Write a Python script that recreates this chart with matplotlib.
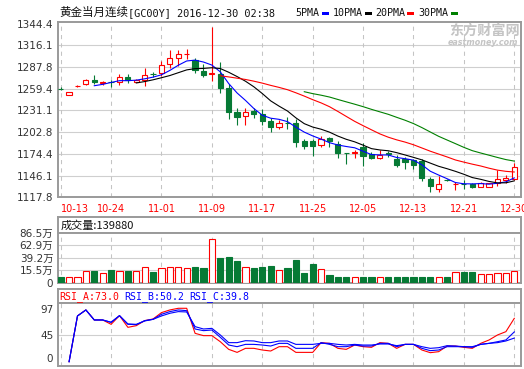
import matplotlib
matplotlib.use('Agg')
import matplotlib.pyplot as plt
from matplotlib.patches import Rectangle
from matplotlib.transforms import ScaledTranslation
import numpy as np
import pandas as pd

# ---------------- data ----------------
opens = [1259.6, 1251.5, 1262.4, 1265.4, 1271.0, 1266.6, 1268.4, 1268.0, 1274.9, 1268.5,
         1271.4, 1279.0, 1280.1, 1291.0, 1299.6, 1304.5, 1296.8, 1283.1, 1279.0, 1279.2,
         1259.7, 1228.5, 1224.2, 1229.8, 1225.9, 1216.8, 1209.4, 1215.2, 1215.1, 1191.2,
         1191.2, 1186.0, 1194.6, 1187.7, 1175.4, 1175.6, 1183.4, 1173.8, 1168.6, 1175.0,
         1167.3, 1168.2, 1166.0, 1165.2, 1141.3, 1129.2, 1140.8, 1134.6, 1135.5, 1134.8,
         1131.8, 1131.8, 1136.1, 1140.0, 1142.2]
highs = [1261.0, 1255.6, 1263.6, 1272.3, 1277.9, 1270.1, 1271.4, 1279.2, 1278.4, 1272.5,
         1286.6, 1281.4, 1295.3, 1310.5, 1310.5, 1310.9, 1299.6, 1292.2, 1340.5, 1294.0,
         1264.9, 1234.6, 1234.6, 1234.6, 1232.4, 1221.6, 1218.1, 1222.9, 1220.3, 1194.2,
         1194.2, 1197.7, 1196.4, 1191.2, 1176.0, 1179.0, 1189.0, 1176.8, 1179.0, 1178.1,
         1172.5, 1170.8, 1168.2, 1168.2, 1144.8, 1145.6, 1141.3, 1137.8, 1140.0, 1137.0,
         1137.8, 1137.0, 1153.5, 1146.5, 1163.0]
lows = [1257.5, 1251.3, 1262.0, 1264.1, 1264.9, 1263.6, 1261.5, 1264.1, 1266.2, 1267.5,
        1262.8, 1274.9, 1276.6, 1286.6, 1288.8, 1297.5, 1280.1, 1274.5, 1269.3, 1253.6,
        1220.3, 1211.6, 1211.6, 1221.6, 1211.6, 1202.9, 1207.2, 1207.2, 1183.0, 1180.3,
        1171.6, 1183.4, 1183.4, 1168.6, 1160.8, 1168.6, 1158.6, 1167.3, 1167.3, 1170.8,
        1157.8, 1155.2, 1154.3, 1139.1, 1125.3, 1124.8, 1139.5, 1127.4, 1128.3, 1130.5,
        1131.0, 1131.0, 1132.6, 1137.0, 1140.4]
closes = [1259.3, 1255.4, 1263.2, 1270.6, 1268.0, 1268.2, 1267.8, 1274.9, 1270.6, 1271.2,
          1277.1, 1278.6, 1290.3, 1299.2, 1304.8, 1305.0, 1284.0, 1277.9, 1279.4, 1260.6,
          1228.9, 1222.4, 1229.4, 1226.3, 1217.2, 1209.4, 1215.0, 1214.6, 1190.3, 1184.7,
          1184.7, 1194.2, 1191.2, 1175.1, 1175.0, 1176.4, 1171.6, 1169.5, 1172.9, 1174.5,
          1159.9, 1163.9, 1160.0, 1142.6, 1132.6, 1134.8, 1140.2, 1135.0, 1134.6, 1131.8,
          1137.0, 1136.1, 1141.3, 1143.5, 1157.8]
# volume in 万 (10k contracts)
volume = [2.6, 2.6, 2.6, 13.6, 14.2, 10.4, 16.1, 14.2, 14.2, 13.6,
          21.1, 12.9, 19.2, 21.1, 21.1, 19.2, 21.7, 19.8, 73.7, 38.6,
          40.5, 33.0, 21.1, 19.8, 21.7, 23.6, 15.4, 19.8, 34.9, 10.4,
          27.3, 17.3, 6.7, 2.6, 2.6, 2.6, 2.6, 2.6, 2.6, 2.6,
          2.6, 2.6, 2.6, 2.6, 2.6, 2.6, 2.6, 12.9, 12.9, 12.3,
          8.6, 8.6, 9.8, 9.8, 14.0]
nan = np.nan
rsi_a = [nan, 0, 77.1, 87.2, 70.3, 70.3, 63.0, 77.6, 57.9, 60.7, 69.2, 72.0, 82.7, 87.2, 90.0,
         90.0, 47.8, 43.9, 43.9, 33.7, 20.8, 15.7, 22.5, 22.5, 19.7, 18.0, 25.3, 25.3, 15.7,
         15.7, 15.7, 32.1, 30.9, 22.5, 20.8, 28.1, 25.3, 24.2, 32.1, 30.9, 22.5, 29.2, 29.2,
         19.7, 15.2, 16.9, 26.4, 26.4, 24.2, 22.5, 30.9, 36.6, 45.0, 50.6, 73.0]
rsi_b = [nan, 0, 77.1, 87.2, 70.3, 70.3, 66.4, 77.6, 63.0, 62.4, 69.2, 71.4, 79.9, 84.4, 87.2,
         86.0, 55.1, 52.3, 53.4, 41.1, 28.1, 25.3, 29.2, 29.2, 28.1, 26.4, 30.9, 30.9, 22.5,
         22.5, 22.5, 32.1, 29.2, 25.3, 25.3, 28.1, 26.4, 26.4, 30.9, 30.9, 25.3, 29.2, 29.2,
         22.5, 18.6, 19.7, 25.3, 25.3, 25.3, 24.2, 29.2, 30.9, 33.7, 36.6, 50.2]
rsi_c = [nan, 0, 77.1, 87.2, 70.3, 70.3, 66.4, 77.6, 63.6, 63.0, 68.6, 71.4, 77.1, 81.6, 84.4,
         83.8, 59.1, 55.1, 56.2, 45.0, 32.1, 32.1, 35.4, 34.9, 32.1, 32.1, 34.9, 34.9, 29.2,
         29.2, 29.2, 30.9, 30.9, 29.2, 28.1, 29.2, 28.1, 28.1, 29.8, 29.8, 27.0, 29.2, 29.2,
         25.3, 22.5, 23.6, 27.0, 26.4, 25.3, 25.3, 29.2, 30.9, 32.1, 34.9, 39.8]
date_labels = ['10-13', '10-24', '11-01', '11-09', '11-17', '11-25', '12-05', '12-13', '12-21', '12-30']
date_idx = [0, 6, 12, 18, 24, 30, 36, 42, 48, 54]
price_ticks = [1117.8, 1146.1, 1174.4, 1202.8, 1231.1, 1259.4, 1287.8, 1316.1, 1344.4]
vol_ticks = [15.5, 39.2, 62.9, 86.5]
vol_bottom = -8.15
rsi_ticks = [0, 45, 97]
ma_periods = [5, 10, 20, 30]
ma_names = ['5PMA', '10PMA', '20PMA', '30PMA']
last_volume = '139880'
rsi_last = ['73.0', '50.2', '39.8']

# ---------------- style ----------------
RED = '#FF0000'
GREEN = '#067A35'
BLUE = '#0000FF'
BORDER = '#9A9A9A'
GRID = '#CFCFCF'
ma_colors = [BLUE, '#000000', RED, '#008000']
CJK = ['Noto Sans CJK SC', 'DejaVu Sans']
LAT = ['DejaVu Sans', 'Noto Sans CJK SC']
MONO = ['DejaVu Sans Mono', 'Noto Sans CJK SC']

W, H = 524, 369
fig = plt.figure(figsize=(W / 100, H / 100), dpi=100)
fig.patch.set_facecolor('white')


def axes_px(x0, y0, x1, y1):
    return fig.add_axes([x0 / W, 1 - y1 / H, (x1 - x0) / W, (y1 - y0) / H])


L, R = 57.5, 521
ax = axes_px(L, 22.3, R, 197.3)
vh = axes_px(L, 217, R, 232.5)
av = axes_px(L, 232.5, R, 283)
rh = axes_px(L, 289.3, R, 303.3)
ar = axes_px(L, 303.3, R, 365.7)

o = np.array(opens); c = np.array(closes)
hi = np.array(highs); lo = np.array(lows)
x = np.arange(len(c))
up = c >= o
cols = np.where(up, RED, GREEN)
XLIM = (-0.38, 54.8)

for a in (ax, vh, av, rh, ar):
    a.set_xlim(*XLIM)
    for s in a.spines.values():
        s.set_color(BORDER)
        s.set_linewidth(1.4)
    a.tick_params(length=0)
    a.set_facecolor('white')
for a in (vh, rh):
    a.set_xticks([]); a.set_yticks([])

# ---- main price panel ----
ax.set_ylim(1117.8, 1346.0)
for t in price_ticks[1:-1]:
    ax.axhline(t, color=GRID, lw=0.8, zorder=0)
for a in (ax, av, ar):
    for xi in date_idx:
        a.axvline(xi, color='#C4C4C4', lw=0.75, ls=(0, (4, 4)), zorder=0)

ax.vlines(x, lo, hi, colors=cols, lw=0.8, zorder=2)
body_lo = np.minimum(o, c)
body_h = np.maximum(np.abs(c - o), 0.35)
ax.bar(x, body_h, bottom=body_lo, width=0.62,
       facecolor=np.where(up, 'white', GREEN), edgecolor=cols, linewidth=0.8, zorder=3)

cs = pd.Series(c)
for n, col in zip(ma_periods, ma_colors):
    ax.plot(x, cs.rolling(n).mean(), color=col, lw=0.8, zorder=4)

ax.set_yticks(price_ticks)
ax.set_yticklabels([f'{t:.1f}' for t in price_ticks], fontsize=7.5, color='#333333')
ax.tick_params(axis='y', pad=3)
ax.set_xticks(date_idx)
ax.set_xticklabels(date_labels, fontsize=7, color=RED)
ax.tick_params(axis='x', pad=5)
ax.get_xticklabels()[0].set_ha('left')

# ---- volume panel ----
vol = np.array(volume)
av.set_ylim(vol_bottom, vol_ticks[-1])
for t in vol_ticks[:-1]:
    av.axhline(t, color=GRID, lw=0.8, zorder=0)
av.bar(x, vol - vol_bottom, bottom=vol_bottom, width=0.72,
       facecolor=np.where(up, 'white', GREEN), edgecolor=cols, linewidth=0.8, zorder=3)
av.set_yticks([vol_bottom] + vol_ticks)
av.set_yticklabels(['0'] + [f'{t:.1f}万' for t in vol_ticks], fontsize=7.5,
                   color='#333333', family=LAT)
av.tick_params(axis='y', pad=3)
av.set_xticks([])
vh.text(0.006, 0.45, '成交量:' + last_volume, transform=vh.transAxes, ha='left',
        va='center', fontsize=8, family=CJK, color='#111111')

# ---- RSI panel ----
ar.set_ylim(-6.75, 98.4)
ar.axhline(45, color=GRID, lw=0.8, zorder=0)
ar.plot(x, rsi_a, color=RED, lw=0.8, zorder=3)
ar.plot(x, rsi_c, color=BLUE, lw=0.8, zorder=4)
ar.plot(x, rsi_b, color=BLUE, lw=0.8, zorder=4)
ar.set_yticks(rsi_ticks)
ar.set_yticklabels([str(t) for t in rsi_ticks], fontsize=7.5, color='#333333')
ar.tick_params(axis='y', pad=3)
ar.set_xticks([])
for lab, dy in zip(ar.get_yticklabels(), [4, 0, -5]):
    lab.set_transform(lab.get_transform() + ScaledTranslation(0, dy / 100, fig.dpi_scale_trans))

rsi_txt = [('RSI_A:' + rsi_last[0], RED), ('RSI_B:' + rsi_last[1], BLUE), ('RSI_C:' + rsi_last[2], BLUE)]
px = 59
for s, col in rsi_txt:
    fig.text(px / W, 1 - 296.5 / H, s, ha='left', va='center', fontsize=7.1,
             family=MONO, color=col)
    px += (len(s) + 1) * 5.94

# ---- title & legend ----
fig.text(59 / W, 1 - 12.7 / H, '黄金当月连续', ha='left', va='center', fontsize=8.3,
         family=CJK, color='#111111')
fig.text(128.5 / W, 1 - 12.7 / H, '[GC00Y] 2016-12-30 02:38', ha='left', va='center',
         fontsize=7.4, family=MONO, color='#111111')
lx = [295, 333, 375, 418]
mx = [322, 365, 407, 451]
for name, col, tx, rx in zip(ma_names, ma_colors, lx, mx):
    fig.text(tx / W, 1 - 12.7 / H, name, ha='left', va='center', fontsize=7.2,
             family=MONO, color='#111111')
    fig.add_artist(Rectangle((rx / W, 1 - 14.5 / H), 6.5 / W, 2.6 / H,
                             transform=fig.transFigure, facecolor=col, edgecolor='none'))

# ---- watermark ----
fig.text(484 / W, 1 - 31 / H, '东方财富网', ha='center', va='center', fontsize=10.2,
         family=CJK, fontweight='bold', color='#C4C4C4', zorder=0)
fig.text(483 / W, 1 - 42.5 / H, 'eastmoney.com', ha='center', va='center', fontsize=5.8,
         family=LAT, fontweight='bold', fontstyle='italic', color='#C4C4C4', zorder=0)

fig.savefig('out.png', dpi=100, facecolor='white')
